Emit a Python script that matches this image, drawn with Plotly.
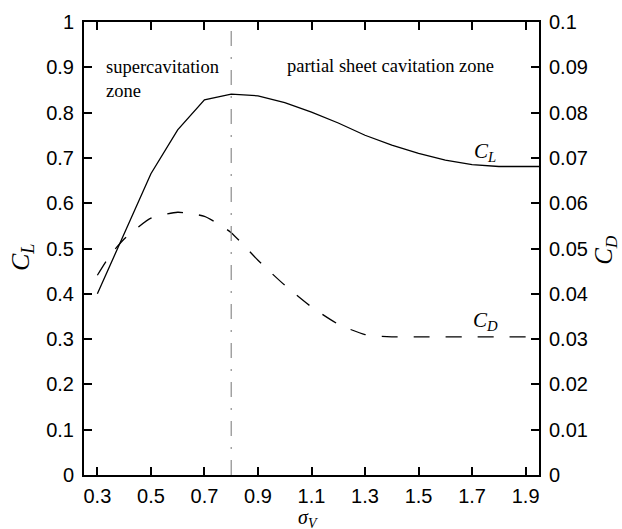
import plotly.graph_objects as go

sigma_cl = [0.3, 0.4, 0.5, 0.6, 0.7, 0.8, 0.9, 1.0, 1.1, 1.2, 1.3, 1.4, 1.5, 1.6, 1.7, 1.8, 1.9, 1.95]
cl_vals = [0.40, 0.532, 0.665, 0.762, 0.828, 0.841, 0.837, 0.822, 0.801, 0.777, 0.750, 0.728, 0.710, 0.695, 0.685, 0.681, 0.681, 0.681]

sigma_cd = [0.3, 0.35, 0.4, 0.45, 0.5, 0.6, 0.7, 0.75, 0.8, 0.85, 0.9, 0.95, 1.0, 1.1, 1.2, 1.3, 1.4, 1.5, 1.6, 1.7, 1.8, 1.9, 1.95]
cd_vals = [0.0441, 0.0487, 0.0521, 0.0546, 0.0567, 0.0580, 0.0571, 0.0555, 0.0535, 0.0505, 0.0474, 0.0446, 0.0419, 0.0371, 0.0333, 0.0310, 0.0305, 0.0305, 0.0305, 0.0305, 0.0305, 0.0305, 0.0305]

x_ticks = [0.3, 0.5, 0.7, 0.9, 1.1, 1.3, 1.5, 1.7, 1.9]
x_ticklabels = ["0.3", "0.5", "0.7", "0.9", "1.1", "1.3", "1.5", "1.7", "1.9"]
zone_boundary = 0.8

fig = go.Figure()
fig.add_trace(go.Scatter(x=sigma_cl, y=cl_vals, mode="lines",
                         line=dict(color="black", width=1.3), showlegend=False))
fig.add_trace(go.Scatter(x=sigma_cd, y=cd_vals, mode="lines", yaxis="y2",
                         line=dict(color="black", width=1.3, dash="16px,16px", shape="spline", smoothing=0.6),
                         showlegend=False))

fig.add_shape(type="line", x0=zone_boundary, x1=zone_boundary, y0=0, y1=1,
              xref="x", yref="y", line=dict(color="#8c8c8c", width=1.2, dash="15px,11px,2px,11px"))

serif = "Liberation Serif, Times New Roman, serif"
fig.add_annotation(x=0.325, y=0.875, xref="x", yref="y", xanchor="left", yanchor="middle",
                   text="supercavitation<br>zone", align="left", showarrow=False,
                   font=dict(family=serif, size=18.5, color="black"))
fig.add_annotation(x=1.0, y=0.902, xref="x", yref="y", xanchor="left", yanchor="middle",
                   text="partial sheet cavitation zone", showarrow=False,
                   font=dict(family=serif, size=18.5, color="black"))
fig.add_annotation(x=1.75, y=0.713, xref="x", yref="y", xanchor="center", yanchor="middle",
                   text="<i>C<sub>L</sub></i>", showarrow=False,
                   font=dict(family=serif, size=21, color="black"))
fig.add_annotation(x=1.75, y=0.340, xref="x", yref="y", xanchor="center", yanchor="middle",
                   text="<i>C<sub>D</sub></i>", showarrow=False,
                   font=dict(family=serif, size=21, color="black"))

# axis titles
fig.add_annotation(x=0, y=0.479, xref="paper", yref="paper", xanchor="center", yanchor="middle",
                   xshift=-62, textangle=-90, text="<i>C<sub>L</sub></i>", showarrow=False,
                   font=dict(family=serif, size=26, color="black"))
fig.add_annotation(x=1, y=0.497, xref="paper", yref="paper", xanchor="center", yanchor="middle",
                   xshift=67, textangle=-90, text="<i>C<sub>D</sub></i>", showarrow=False,
                   font=dict(family=serif, size=25, color="black"))
fig.add_annotation(x=0.492, y=0, xref="paper", yref="paper", xanchor="center", yanchor="middle",
                   yshift=-43, text="<i>σ<sub>V</sub></i>", showarrow=False,
                   font=dict(family=serif, size=20, color="black"))

tickfont = dict(family="Liberation Sans, Arial, sans-serif", size=20, color="black")
fig.update_layout(
    width=622, height=529,
    margin=dict(l=84, r=83, t=22, b=54),
    paper_bgcolor="white", plot_bgcolor="white",
    xaxis=dict(range=[0.25, 1.95], tickvals=x_ticks, ticktext=x_ticklabels,
               ticks="inside", ticklen=8, tickwidth=1.5, tickcolor="black",
               showline=True, linecolor="black", linewidth=2, mirror="ticks",
               showgrid=False, zeroline=False, tickfont=tickfont, ticklabelstandoff=2,
               automargin=False),
    yaxis=dict(range=[0, 1], dtick=0.1, tick0=0,
               ticks="inside", ticklen=8, tickwidth=1.5, tickcolor="black",
               showline=True, linecolor="black", linewidth=2,
               showgrid=False, zeroline=False, tickfont=tickfont, ticklabelstandoff=4,
               automargin=False),
    yaxis2=dict(range=[0, 0.1], dtick=0.01, tick0=0, overlaying="y", side="right",
                ticks="inside", ticklen=8, tickwidth=1.5, tickcolor="black",
                showline=True, linecolor="black", linewidth=2,
                showgrid=False, zeroline=False, tickfont=tickfont, ticklabelstandoff=4,
                automargin=False),
)

fig.write_html("out.html", config={"displayModeBar": False},
               post_script="document.body.style.margin='0';document.body.style.overflow='hidden';")
